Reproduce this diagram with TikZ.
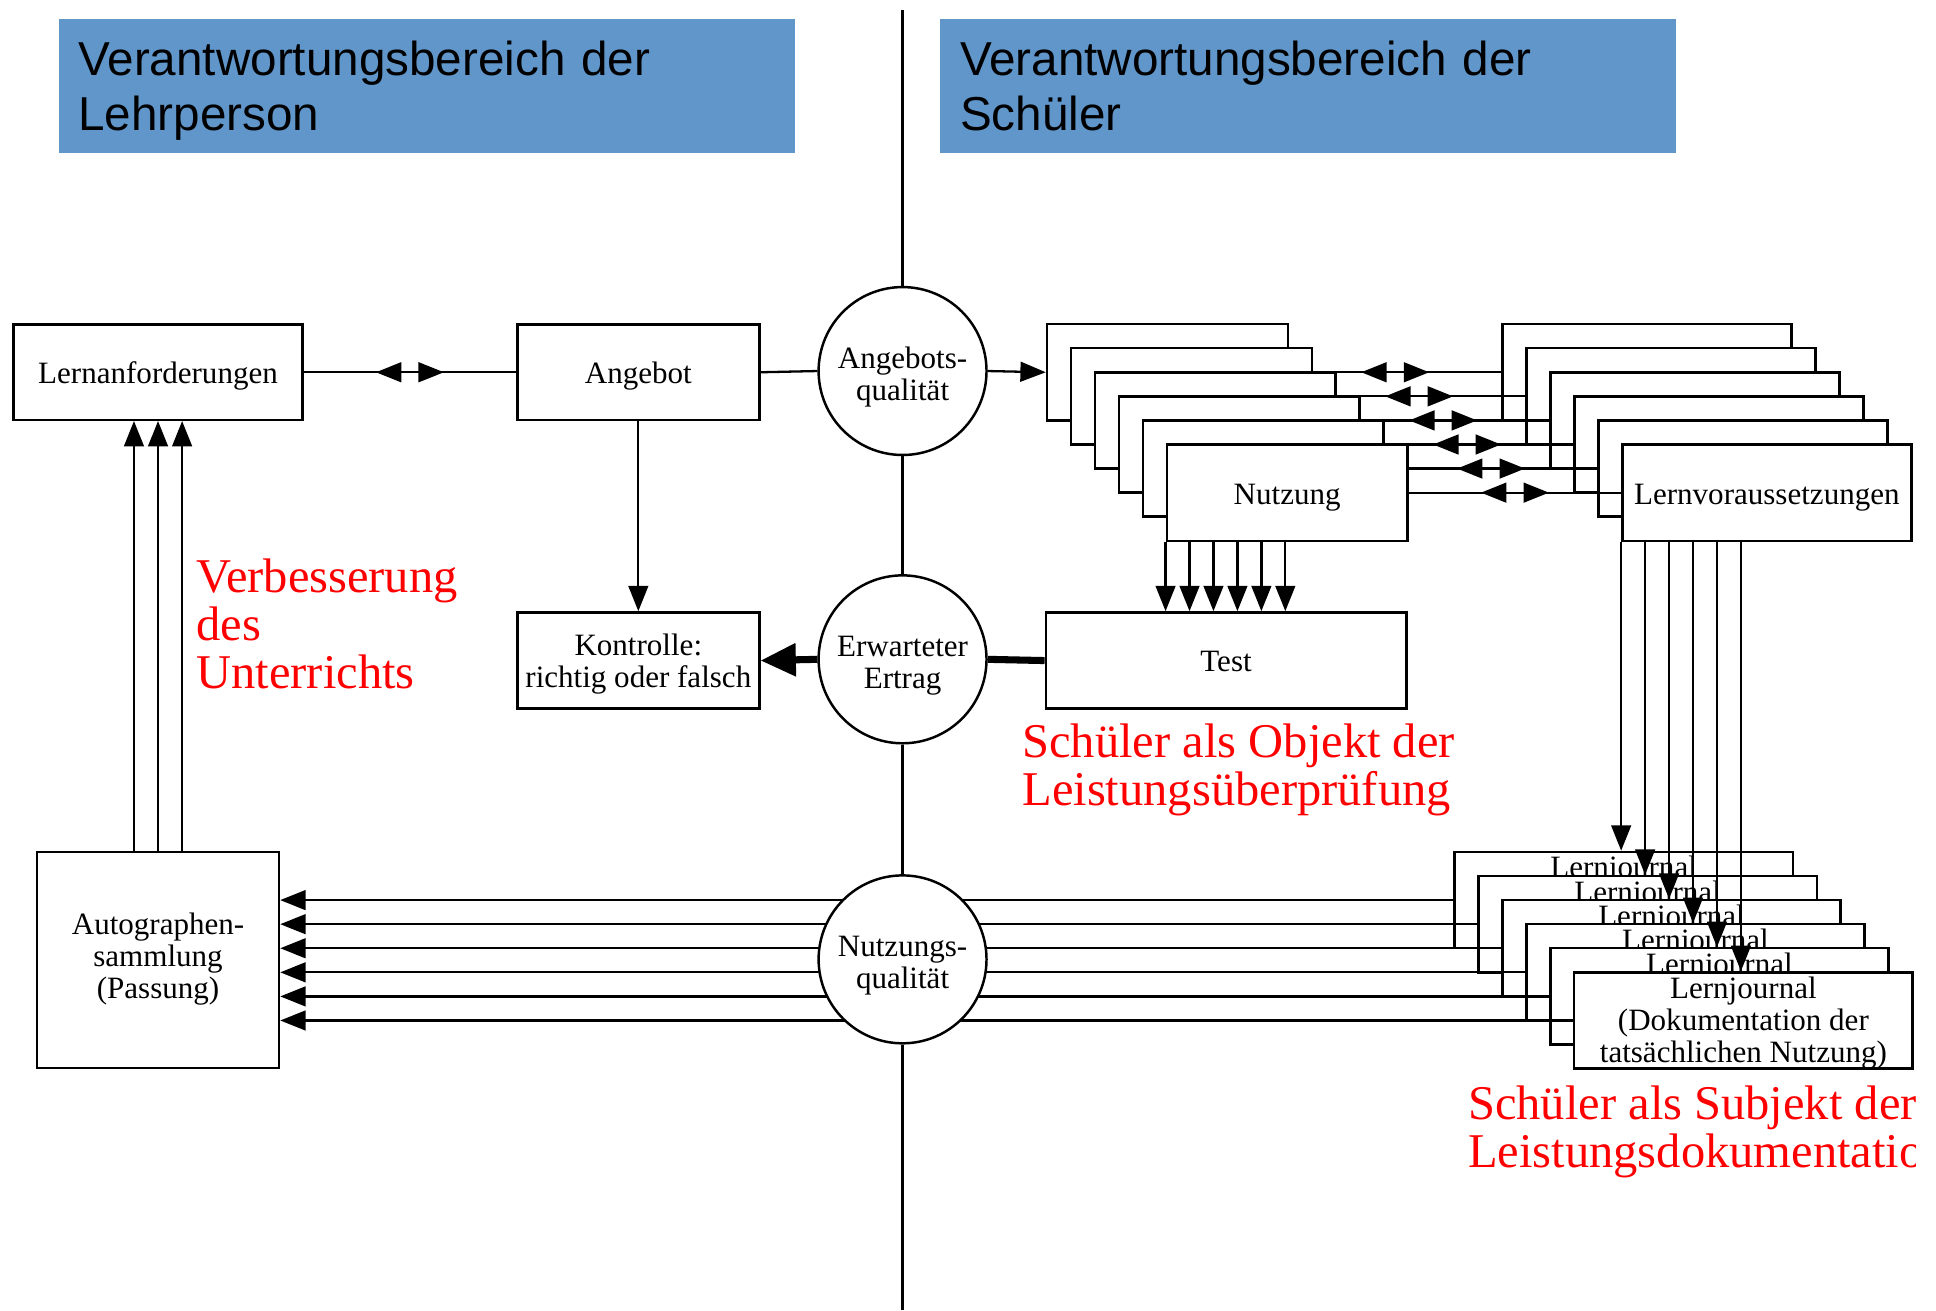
\documentclass[tikz,border=0pt]{standalone}
\usepackage{fontspec}
\setmainfont{Liberation Serif}
\newfontfamily\bannerfont{Liberation Sans}
\usetikzlibrary{arrows.meta,calc}
\definecolor{bannerblue}{RGB}{96,150,202}
\definecolor{notered}{RGB}{255,0,0}
\newcommand\lowr[2]{\raisebox{-#1}[\height][\depth]{\begin{tabular}{@{}c@{}}#2\end{tabular}}}
\newcommand\lowl[2]{\raisebox{-#1}[\height][\depth]{\begin{tabular}{@{}l@{}}#2\end{tabular}}}
\begin{document}
\begin{tikzpicture}[x=0.35pt,y=-0.35pt,
  boxtext/.style={font=\fontsize{8.8}{9.1}\selectfont},
  box/.style={draw,line width=0.7pt,fill=white,inner sep=0pt,anchor=north west,boxtext},
  qual/.style={draw,circle,line width=0.7pt,fill=white,inner sep=0pt,minimum size=47.6pt,boxtext},
  banner/.style={fill=bannerblue,anchor=north west,inner ysep=0pt,inner xsep=5.6pt,text width=197.4pt,minimum height=37.8pt,align=left,font=\bannerfont\fontsize{13.5}{15.6}\selectfont},
  note/.style={text=notered,anchor=north west,inner sep=0pt,align=left,font=\fontsize{13.75}{13.65}\selectfont},
  conn/.style={line width=0.65pt},
  tip/.style={-{Triangle[length=7.2pt,width=5.6pt]}},
  axis/.style={line width=1pt},
  heavy/.style={line width=2pt},
  bigtip/.style={-{Triangle[length=10pt,width=9pt]}},
]
\useasboundingbox (0,0) rectangle (1568,1061);

% banners
\node[banner] (bl) at (47,15) {\lowl{1.8pt}{Verantwortungsbereich der\\Lehrperson}};
\node[banner] (br) at (761,15) {\lowl{1.8pt}{Verantwortungsbereich der\\Schüler}};

% left column
\node[box,minimum width=81.9pt,minimum height=26.95pt] (lern) at (10,262) {\lowr{1.5pt}{Lernanforderungen}};
\node[box,minimum width=68.6pt,minimum height=26.95pt] (angebot) at (418,262) {\lowr{1.5pt}{Angebot}};
\node[box,minimum width=68.6pt,minimum height=27.3pt] (kontrolle) at (418,495) {\lowr{1.2pt}{Kontrolle:\\richtig oder falsch}};
\node[box,minimum width=68.6pt,minimum height=61.25pt] (auto) at (29,689) {\lowr{0pt}{Autographen-\\sammlung\\(Passung)}};
\node[box,minimum width=102.2pt,minimum height=27.3pt] (test) at (846,495) {\lowr{1.2pt}{Test}};

% circles (upper two)
\node[qual] (aq) at (731,300.5) {\lowr{2pt}{Angebots-\\qualität}};
\node[qual] (ee) at (731,534) {\lowr{2pt}{Erwarteter\\Ertrag}};

% Nutzung and Lernvoraussetzungen stacks with double-headed links
\foreach \k in {0,...,5}{
  \ifnum\k=5
    \node[box,minimum width=68.25pt,minimum height=27.3pt] (n\k) at ({847+19.4*\k},{261.5+19.5*\k}) {\lowr{1.5pt}{Nutzung}};
    \node[box,minimum width=81.9pt,minimum height=27.3pt] (lv\k) at ({1216+19.4*\k},{261.5+19.5*\k}) {\lowr{1.5pt}{Lernvoraussetzungen}};
  \else
    \node[box,minimum width=68.25pt,minimum height=27.3pt] (n\k) at ({847+19.4*\k},{261.5+19.5*\k}) {};
    \node[box,minimum width=81.9pt,minimum height=27.3pt] (lv\k) at ({1216+19.4*\k},{261.5+19.5*\k}) {};
  \fi
  \draw[conn] (n\k.east) -- (lv\k.west);
  \coordinate (m\k) at ($(n\k.east)!0.5!(lv\k.west)$);
  \draw[conn,tip] (m\k) -- ++(-27.5,0);
  \draw[conn,tip] (m\k) -- ++(27.5,0);
}

% Lernjournal stack with arrows from Lernvoraussetzungen
\foreach \j in {0,...,5}{
  \node[box,minimum width=95.9pt,minimum height=26.95pt] (lj\j) at ({1177+19.4*\j},{689+19.5*\j}) {\lowr{1pt}{Lernjournal\\(Dokumentation der\\tatsächlichen Nutzung)}};
  \coordinate (s\j) at ($(lv5.south west)+(19.4*\j,0)$);
  \draw[conn,tip] (s\j) -- (s\j |- lj\j.north);
}

% Lernjournal -> Autographensammlung
\foreach \j in {0,...,5}{
  \draw[conn,tip] (lj\j.west) -- (lj\j.west -| auto.east);
}

\node[qual] (nq) at (731,777) {\lowr{2pt}{Nutzungs-\\qualität}};

% central axis
\coordinate (axtop) at (731,8);
\coordinate (axbot) at (731,1061);
\draw[axis] (axtop) -- (aq.north);
\draw[axis] (aq.south) -- (ee.north);
\draw[axis] (ee.south) -- (nq.north);
\draw[axis] (nq.south) -- (axbot);

% Lernanforderungen <-> Angebot
\draw[conn] (lern.east) -- (angebot.west);
\coordinate (mla) at ($(lern.east)!0.5!(angebot.west)$);
\draw[conn,tip] (mla) -- ++(-27.5,0);
\draw[conn,tip] (mla) -- ++(27.5,0);

\draw[conn] (angebot.east) -- (aq.west);
\draw[conn,tip] (aq.east) -- (n0.west);
\draw[conn,tip] (angebot.south) -- (kontrolle.north);

\draw[heavy] (test.west) -- (ee.east);
\draw[heavy,bigtip] (ee.west) -- (kontrolle.east);

% Nutzung -> Test
\foreach \j in {0,...,5}{
  \coordinate (t\j) at ($(n5.south west)+(19.4*\j,0)$);
  \draw[conn,tip] (t\j) -- (t\j |- test.north);
}

% Autographensammlung -> Lernanforderungen
\foreach \i [count=\c] in {-19.5,0,19.5}{
  \coordinate (a\c) at ($(auto.north)+(\i,0)$);
  \draw[conn,tip] (a\c) -- (a\c |- lern.south);
}

% red notes
\node[note] (v) at (158.5,452) {Verbesserung\\des\\Unterrichts};
\node[note] (obj) at (827.5,585.5) {Schüler als Objekt der\\Leistungsüberprüfung};
\begin{scope}
  \clip (0,0) rectangle (1551,1061);
  \node[note] (subj) at (1188.5,878.5) {Schüler als Subjekt der\\Leistungsdokumentation};
\end{scope}
\end{tikzpicture}
\end{document}
